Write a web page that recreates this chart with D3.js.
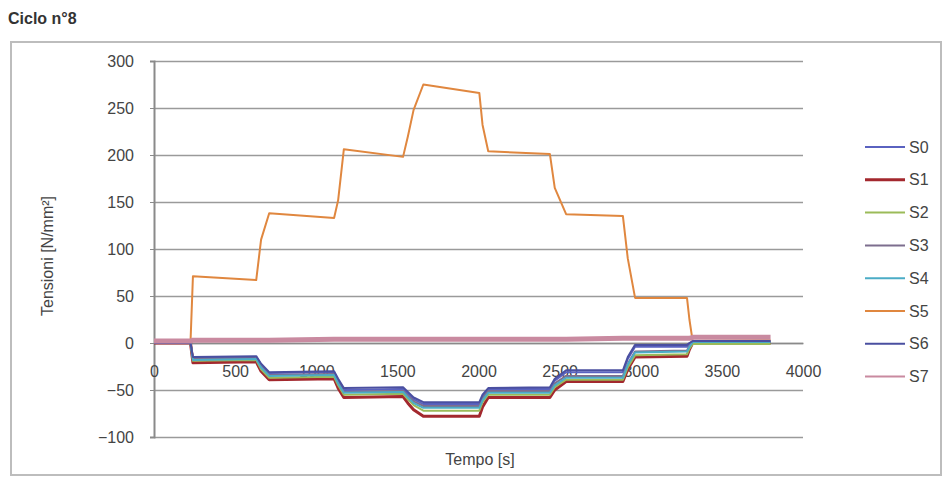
<!DOCTYPE html>
<html><head><meta charset="utf-8">
<script src="https://cdn.jsdelivr.net/npm/d3@7"></script>
<style>
html,body{margin:0;padding:0;background:#fff;}
svg text{font-family:"Liberation Sans",Arial,sans-serif;}
</style></head>
<body>
<svg id="c" width="944" height="477"></svg>
<script>
// ---- data ----
const seriesNames = ["S0","S1","S2","S3","S4","S5","S6","S7"];
const time = [0,225,240,630,660,710,1110,1135,1170,1535,1565,1600,1660,2005,2025,2060,2440,2470,2540,2890,2920,2965,3285,3300,3320,3800];
const S0 = [0,0,-16,-15,-23,-32,-31,-40,-50,-49,-54,-60,-65,-65,-57,-49,-49,-40,-31,-31,-17,-4,-4,-1,2,2];
const S1 = [0,0,-21,-20,-30,-39,-38,-48,-58,-57,-64,-71,-78,-78,-68,-58,-58,-50,-41,-41,-28,-15,-14,-7,0,0];
const S2 = [0,0,-19,-18,-28,-37,-36,-45,-55,-54,-60,-66,-72,-72,-63,-55,-55,-47,-39,-39,-26,-13,-12,-6,-1,-1];
const S3 = [0,0,-17,-16,-25,-34,-33,-42,-52,-51,-56,-62,-67,-67,-59,-51,-51,-43,-35,-35,-22,-9,-8,-3,1,1];
const S4 = [0,0,-18,-17,-26,-35,-34,-43,-53,-52,-58,-64,-69,-69,-61,-53,-53,-45,-37,-37,-23,-10,-9,-4,1,1];
const S5 = [1,1,71,67,110,138,133,152,206,198,220,248,275,266,232,204,201,165,137,135,90,48,48,25,2,3];
const S6 = [0,0,-15,-14,-22,-31,-30,-38,-48,-47,-52,-58,-63,-63,-55,-48,-47,-38,-29,-29,-15,-2,-2,0,2,2];
const S7 = [2,2,3,3,3,3,4,4,4,4,4,4,4,4,4,4,4,4,4,5,5,5,5,5,6,6];
const xTicks = [0,500,1000,1500,2000,2500,3000,3500,4000];
const yTicks = [-100,-50,0,50,100,150,200,250,300];

const values = [S0,S1,S2,S3,S4,S5,S6,S7];
const colors = ["#5a62c0","#a3282e","#9bbb59","#7d6e8e","#4bacc6","#e0873f","#4a4fa0","#c98aa0"];
const widths = [2,3,2,2,2,2,2,5];

const svg = d3.select("#c");
// outer border
svg.append("rect").attr("x",11).attr("y",42).attr("width",930).attr("height",433)
  .attr("fill","#fff").attr("stroke","#bdbdbd").attr("stroke-width",2);
svg.append("text").attr("x",8).attr("y",24).attr("font-size",16).attr("font-weight","bold")
  .attr("fill","#333").text("Ciclo n°8");

const x = d3.scaleLinear().domain([0,4000]).range([154,803]);
const y = d3.scaleLinear().domain([-100,300]).range([437,61]);

// gridlines
const grid = svg.append("g").attr("transform","translate(154,0)")
  .call(d3.axisLeft(y).tickValues(yTicks).tickSize(-(803-154)).tickFormat(""));
grid.select(".domain").remove();
grid.selectAll("line").attr("stroke","#9a9a9a").attr("stroke-width",1.5);

// y axis
const ya = svg.append("g").attr("transform","translate(154,0)")
  .call(d3.axisLeft(y).tickValues(yTicks).tickSize(4).tickPadding(16).tickFormat(d3.format("d")));
ya.select(".domain").attr("stroke","#8a8a8a").attr("stroke-width",2);
ya.selectAll(".tick line").attr("stroke","#8a8a8a");
ya.selectAll("text").attr("font-size",16).attr("fill","#444").attr("font-family","Liberation Sans, Arial, sans-serif");

// x axis at y=0
const xa = svg.append("g").attr("transform",`translate(0,${y(0)})`)
  .call(d3.axisBottom(x).tickValues(xTicks).tickSize(0).tickPadding(23).tickFormat(d3.format("d")));
xa.select(".domain").attr("stroke","#8a8a8a").attr("stroke-width",1.5);
xa.selectAll("text").attr("font-size",16).attr("fill","#444").attr("font-family","Liberation Sans, Arial, sans-serif");

// axis titles
svg.append("text").attr("transform","translate(53,256) rotate(-90)").attr("text-anchor","middle")
  .attr("font-size",16).attr("fill","#444").text("Tensioni [N/mm²]");
svg.append("text").attr("x",480).attr("y",465).attr("text-anchor","middle")
  .attr("font-size",16).attr("fill","#444").text("Tempo [s]");

// lines
const line = d3.line().x((d,i)=>x(time[i])).y(d=>y(d));
values.forEach((v,k)=>{
  svg.append("path").datum(v).attr("d",line).attr("fill","none")
    .attr("stroke",colors[k]).attr("stroke-width",widths[k]).attr("stroke-linejoin","round");
});

// legend
const lg = svg.append("g");
seriesNames.forEach((n,k)=>{
  const yy = 147 + k*32.8;
  lg.append("line").attr("x1",865).attr("x2",905).attr("y1",yy).attr("y2",yy)
    .attr("stroke",colors[k]).attr("stroke-width",k===1?3:2);
  lg.append("text").attr("x",909).attr("y",yy+5.5).attr("font-size",16).attr("fill","#444").text(n);
});
</script>
</body></html>
